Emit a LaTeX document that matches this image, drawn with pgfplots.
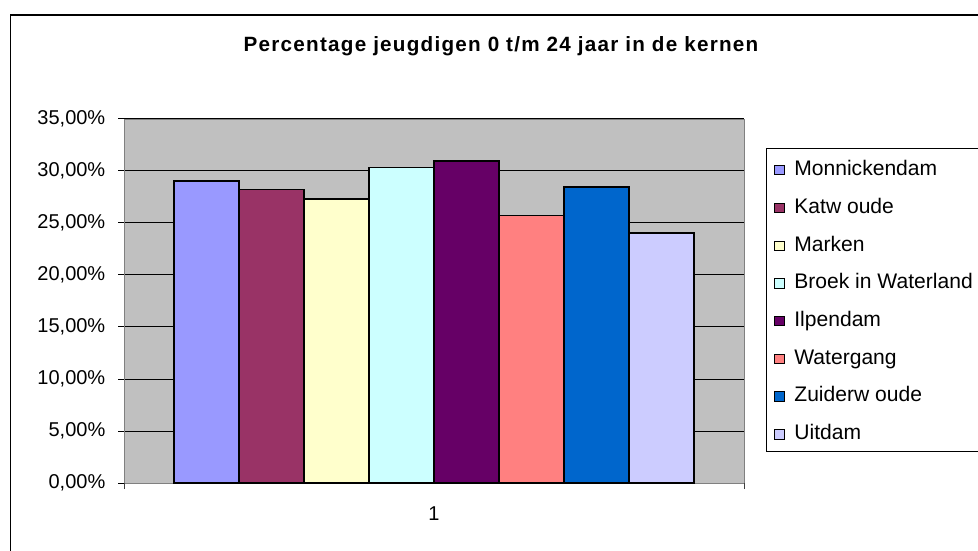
\documentclass[border=0pt]{standalone}
\usepackage{pgfplots}
\pgfplotsset{compat=1.18}
\usepackage{fontspec}
\setmainfont{Liberation Sans}
\definecolor{cA}{HTML}{9999FF}
\definecolor{cB}{HTML}{993366}
\definecolor{cC}{HTML}{FFFFCC}
\definecolor{cD}{HTML}{CCFFFF}
\definecolor{cE}{HTML}{660066}
\definecolor{cF}{HTML}{FF8080}
\definecolor{cG}{HTML}{0066CC}
\definecolor{cH}{HTML}{CCCCFF}
\definecolor{plotbg}{HTML}{C0C0C0}
\begin{document}
\begin{tikzpicture}[x=0.75pt,y=0.75pt]
\useasboundingbox (0,0) rectangle (978,550);
\draw[black, line width=0.9pt] (10.5,535) rectangle (1000,-20);
\node[font=\bfseries\fontsize{15.5}{18}\selectfont, inner sep=0pt] at (501,504) {\addfontfeatures{LetterSpace=6}Percentage jeugdigen 0 t/m 24 jaar in de kernen};
\draw[black, line width=0.75pt, fill=white] (766,401) rectangle (1000,98);
\begin{axis}[
  at={(93pt,50.25pt)}, anchor=south west,
  scale only axis, width=465pt, height=273pt,
  axis background/.style={fill=plotbg},
  axis line style={draw=gray},
  ymin=0, ymax=0.35,
  xmin=0.5, xmax=1.5,
  ytick={0,0.05,0.1,0.15,0.2,0.25,0.3,0.35},
  yticklabels={0{,}00\%,5{,}00\%,10{,}00\%,15{,}00\%,20{,}00\%,25{,}00\%,30{,}00\%,35{,}00\%},
  xtick={1}, xticklabels={1},
  x tick style={draw=none},
  extra x ticks={0.5,1.5}, extra x tick labels={},
  extra x tick style={grid=none, x tick style={draw=darkgray}},
  ymajorgrids, grid style={black, line width=0.75pt},
  y tick style={draw=black, line width=0.75pt},
  tick align=outside, major tick length=4.5pt,
  ytick pos=left, xtick pos=bottom,
  tick label style={font=\fontsize{15}{18}\selectfont},
  yticklabel style={xshift=-6pt},
  xticklabel style={yshift=-9.5pt},
  ybar=0pt, bar width=48.75pt,
  every axis plot/.append style={draw=black, line width=1pt},
  legend style={at={(1.042,0.893)}, anchor=north west, draw=none, fill=none,
    font=\fontsize{15.8}{18}\selectfont, row sep=14.3pt, column sep=7.3pt,
    nodes={inner sep=0pt, text height=11pt, text depth=3pt}},
  legend cell align=left,
  legend image code/.code={\draw[#1, line width=0.75pt] (0pt,-3.5pt) rectangle (7pt,3.5pt);},
]
\addplot[fill=cA] coordinates {(1,0.2905)};
\addplot[fill=cB] coordinates {(1,0.2825)};
\addplot[fill=cC] coordinates {(1,0.2730)};
\addplot[fill=cD] coordinates {(1,0.3036)};
\addplot[fill=cE] coordinates {(1,0.3097)};
\addplot[fill=cF] coordinates {(1,0.2573)};
\addplot[fill=cG] coordinates {(1,0.2845)};
\addplot[fill=cH] coordinates {(1,0.2403)};
\legend{Monnickendam,Katw oude,Marken,Broek in Waterland,Ilpendam,Watergang,Zuiderw oude,Uitdam}
\end{axis}
\end{tikzpicture}
\end{document}
